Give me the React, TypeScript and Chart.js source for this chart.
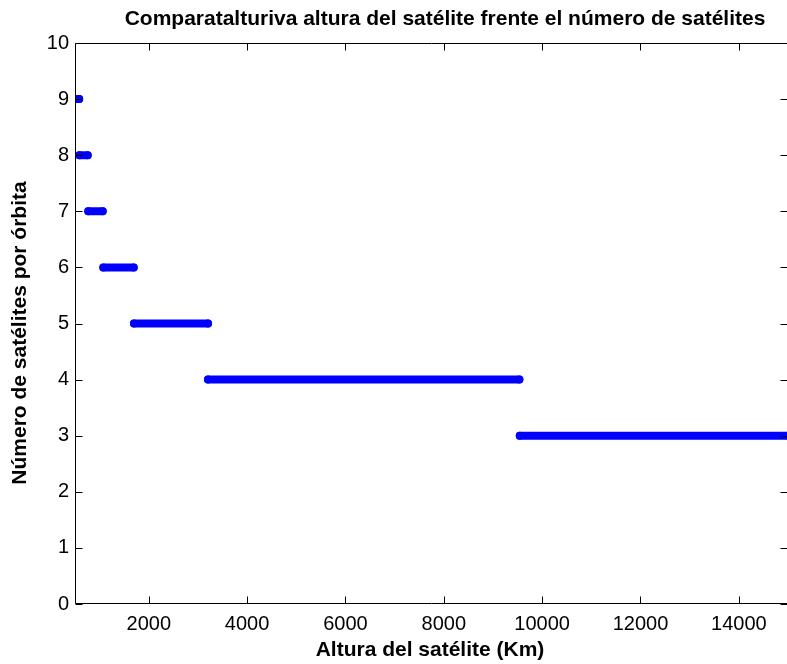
import React, { useEffect, useRef } from "react";
import { Chart, registerables } from "chart.js";

Chart.register(...registerables);

// Number of satellites per orbit (levels) and the altitude range (km) over which each applies
const satelliteCounts = [9, 8, 7, 6, 5, 4, 3];
const altitudeStart = [555, 590, 770, 1076, 1700, 3205, 9545];
const altitudeEnd = [585, 758, 1063, 1694, 3205, 9537, 15000];

const xTickValues = [2000, 4000, 6000, 8000, 10000, 12000, 14000];
const yTickValues = [0, 1, 2, 3, 4, 5, 6, 7, 8, 9, 10];

const titleText = "Comparataltuiva altura del satélite frente el número de satélites".replace("altuiva", "alturiva");
const xLabel = "Altura del satélite (Km)";
const yLabel = "Número de satélites por órbita";

const BLUE = "#0000ff";
const FONT = "'Liberation Sans', Arial, Helvetica, sans-serif";

const framePlugin = {
  id: "matlabFrame",
  afterDraw(chart: any) {
    const { ctx, chartArea } = chart;
    const { left, right, top, bottom } = chartArea;
    const xs = chart.scales.x;
    const ys = chart.scales.y;
    ctx.save();
    ctx.strokeStyle = "#000";
    ctx.lineWidth = 1;
    const L = Math.round(left) + 0.5;
    const R = Math.round(right) - 0.5;
    const T = Math.round(top) + 0.5;
    const B = Math.round(bottom) - 0.5;
    ctx.beginPath();
    ctx.moveTo(L, T);
    ctx.lineTo(R, T);
    ctx.lineTo(R, B);
    ctx.lineTo(L, B);
    ctx.closePath();
    ctx.stroke();
    const tl = 7;
    ctx.beginPath();
    xTickValues.forEach((v) => {
      const px = Math.round(xs.getPixelForValue(v)) + 0.5;
      ctx.moveTo(px, B);
      ctx.lineTo(px, B - tl);
      ctx.moveTo(px, T);
      ctx.lineTo(px, T + tl);
    });
    yTickValues.forEach((v) => {
      const py = Math.round(ys.getPixelForValue(v)) + 0.5;
      ctx.moveTo(L, py);
      ctx.lineTo(L + tl, py);
      ctx.moveTo(R, py);
      ctx.lineTo(R - tl, py);
    });
    ctx.stroke();

    ctx.fillStyle = "#000";
    ctx.textAlign = "center";
    ctx.textBaseline = "middle";
    ctx.font = `bold 21px ${FONT}`;
    ctx.fillText(titleText, 445, 19);
    ctx.font = `bold 21px ${FONT}`;
    ctx.fillText(xLabel, 430, 650);
    ctx.save();
    ctx.translate(20, 333);
    ctx.rotate(-Math.PI / 2);
    ctx.fillText(yLabel, 0, 0);
    ctx.restore();
    ctx.restore();
  },
};

export default function App() {
  const ref = useRef<HTMLCanvasElement | null>(null);

  useEffect(() => {
    if (!ref.current) return;
    const datasets = satelliteCounts.map((n, i) => ({
      label: `${n}`,
      data: [
        { x: altitudeStart[i], y: n },
        { x: altitudeEnd[i], y: n },
      ],
      borderColor: BLUE,
      backgroundColor: BLUE,
      borderWidth: 8,
      borderCapStyle: "round" as const,
      pointRadius: 4,
      pointBorderWidth: 0,
      pointHoverRadius: 4,
      showLine: true,
      clip: 0,
    }));
    const chart = new Chart(ref.current, {
      type: "scatter",
      data: { datasets },
      options: {
        animation: false,
        responsive: false,
        devicePixelRatio: 1,
        layout: { padding: { top: 43, right: 12, left: 0, bottom: 0 } },
        plugins: {
          legend: { display: false },
          title: { display: false },
          tooltip: { enabled: false },
        },
        scales: {
          x: {
            type: "linear",
            min: 500,
            max: 15000,
            grid: { display: false, drawTicks: false },
            border: { display: false },
            afterBuildTicks: (s: any) => {
              s.ticks = xTickValues.map((v) => ({ value: v }));
            },
            afterFit: (s: any) => {
              s.height = 60;
            },
            ticks: {
              padding: 8,
              color: "#000",
              font: { family: FONT, size: 20 },
              maxRotation: 0,
              autoSkip: false,
              callback: (v: any) => `${v}`,
            },
          },
          y: {
            type: "linear",
            min: 0,
            max: 10,
            grid: { display: false, drawTicks: false },
            border: { display: false },
            afterBuildTicks: (s: any) => {
              s.ticks = yTickValues.map((v) => ({ value: v }));
            },
            afterFit: (s: any) => {
              s.width = 75;
            },
            ticks: {
              padding: 6,
              color: "#000",
              font: { family: FONT, size: 20 },
              autoSkip: false,
              callback: (v: any) => `${v}`,
            },
          },
        },
      },
      plugins: [framePlugin],
    });
    return () => chart.destroy();
  }, []);

  return (
    <div
      style={{
        position: "fixed",
        left: 0,
        top: 0,
        width: 787,
        height: 664,
        overflow: "hidden",
        background: "#fff",
      }}
    >
      <canvas ref={ref} width={800} height={664} style={{ display: "block" }} />
    </div>
  );
}
